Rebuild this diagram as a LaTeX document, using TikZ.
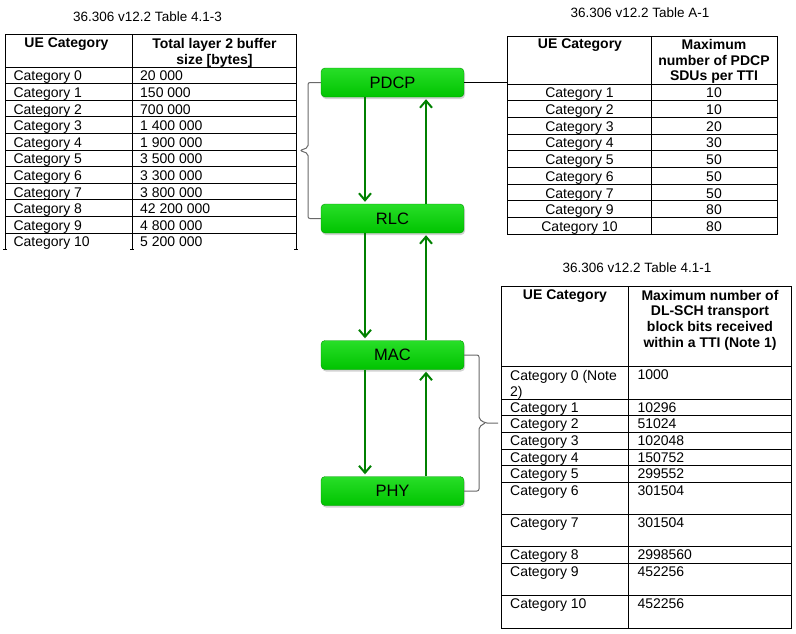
\documentclass[tikz,border=0pt]{standalone}
\usepackage{fontspec}
\setmainfont{Liberation Sans}
\usetikzlibrary{arrows.meta,shadows}
\definecolor{boxlight}{RGB}{40,222,40}
\definecolor{boxgreen}{RGB}{0,196,0}
\definecolor{boxedge}{RGB}{0,150,0}
\definecolor{flowgreen}{RGB}{0,128,0}
\definecolor{bracegray}{RGB}{105,105,105}
\tikzstyle{proto}=[shape=rectangle,rounded corners=4pt,draw=boxedge,top color=boxlight,bottom color=boxgreen,minimum width=143pt,minimum height=29pt,inner sep=0pt,font=\fontsize{16.5}{19}\selectfont,drop shadow={opacity=0.35,shadow xshift=1pt,shadow yshift=-2pt}]
\tikzstyle{flow}=[-{Straight Barb[length=7pt,width=12pt]},draw=flowgreen,line width=2pt,shorten >=2pt]
\tikzstyle{brc}=[draw=bracegray,line width=1pt,rounded corners=2pt]
\tikzstyle{rule}=[line width=0.9pt]
\tikzstyle{cell}=[inner sep=0pt,font=\fontsize{14}{16}\selectfont,align=left]
\tikzstyle{head}=[inner sep=0pt,anchor=north,font=\bfseries\fontsize{14}{15.8}\selectfont,align=center]
\tikzstyle{tabtitle}=[inner sep=0pt,anchor=base,font=\fontsize{13.5}{16}\selectfont]
\begin{document}
\begin{tikzpicture}[x=1pt,y=-1pt]
    \useasboundingbox (0,0) rectangle (796,633);
    % protocol layers
    \node[proto] (pdcp) at (392.5,82.5) {PDCP};
    \node[proto] (rlc) at (392.5,218.5) {RLC};
    \node[proto] (mac) at (392.5,355) {MAC};
    \node[proto] (phy) at (392.5,491) {PHY};
    \draw[flow] ([xshift=-27.5pt]pdcp.south) -- ([xshift=-27.5pt]rlc.north);
    \draw[flow] ([xshift=33.5pt]rlc.north) -- ([xshift=33.5pt]pdcp.south);
    \draw[flow] ([xshift=-27.5pt]rlc.south) -- ([xshift=-27.5pt]mac.north);
    \draw[flow] ([xshift=33.5pt]mac.north) -- ([xshift=33.5pt]rlc.south);
    \draw[flow] ([xshift=-27.5pt]mac.south) -- ([xshift=-27.5pt]phy.north);
    \draw[flow] ([xshift=33.5pt]phy.north) -- ([xshift=33.5pt]mac.south);
    % braces and link
    \coordinate (lbr) at (300,150.5);
    \coordinate (rbr) at (498,423);
    \coordinate (sdu) at (507.3,82.5);
    \draw[brc] (pdcp.west) -| ([shift={(8,-3)}]lbr) -- (lbr) -- ([shift={(8,3)}]lbr) |- (rlc.west);
    \draw[brc] (mac.east) -| ([shift={(-19,-4)}]rbr) -- ([shift={(-13,0)}]rbr) -- (rbr);
    \draw[brc] (phy.east) -| ([shift={(-19,4)}]rbr) -- ([shift={(-13,0)}]rbr);
    \draw[rule] (pdcp.east) -- (sdu);
    % table 4.1-3
    \node[tabtitle] (t413) at (147.5,21.5) {36.306 v12.2 Table 4.1-3};
    \draw[rule] (5,249.6) -- (5,34) -- (296,34) -- (296,249.6);
    \draw[rule] (132,34) -- (132,249.6);
    \draw[rule] (5,67) -- (296,67);
    \foreach \i in {1,...,10} \draw[rule] (5,{67+16.6*\i}) -- (296,{67+16.6*\i});
    \foreach \x in {5,132,296} \draw[rule] (\x-2,249.6) -- (\x+2,249.6);
    \node[head] (lh1) at (66.5,38) {UE Category};
    \node[head] (lh2) at (214.5,38) {Total layer 2 buffer\\size [bytes]};
    \foreach \a/\b [count=\i from 0] in {0/20 000,1/150 000,2/700 000,3/1 400 000,4/1 900 000,5/3 500 000,6/3 300 000,7/3 800 000,8/42 200 000,9/4 800 000,10/5 200 000} {
        \node[cell,anchor=north west] (lc\i) at (13.3,{71+16.6*\i}) {Category \a};
        \node[cell,anchor=north west] (lv\i) at (140,{71+16.6*\i}) {\b};
    }
    % table A-1
    \node[tabtitle] (ta1) at (640,17.7) {36.306 v12.2 Table A-1};
    \draw[rule] (507.3,36) rectangle (777.7,234);
    \draw[rule] (651.7,36) -- (651.7,234);
    \foreach \i in {0,...,8} \draw[rule] (507.3,{84+16.67*\i}) -- (777.7,{84+16.67*\i});
    \node[head] (ah1) at (580,39) {UE Category};
    \node[head] (ah2) at (714,39) {Maximum\\number of PDCP\\SDUs per TTI};
    \foreach \a/\b [count=\i from 0] in {1/10,2/10,3/20,4/30,5/50,6/50,7/50,9/80,10/80} {
        \node[cell,anchor=north] (ac\i) at (579.5,{88+16.67*\i}) {Category \a};
        \node[cell,anchor=north] (av\i) at (714,{88+16.67*\i}) {\b};
    }
    % table 4.1-1
    \node[tabtitle] (t411) at (637,272.7) {36.306 v12.2 Table 4.1-1};
    \draw[rule] (501,286.7) rectangle (791.7,628.3);
    \draw[rule] (628,286.7) -- (628,628.3);
    \foreach \y in {366.7,399.3,415.7,432.3,449.3,465.7,482.3,514.3,546.7,563.3,595.3} \draw[rule] (501,\y) -- (791.7,\y);
    \node[head] (bh1) at (565,289.7) {UE Category};
    \node[head] (bh2) at (710,289.7) {Maximum number of\\DL-SCH transport\\block bits received\\within a TTI (Note 1)};
    \foreach \y/\a/\b [count=\i from 0] in {366.7/Category 0 (Note\\2)/1000,399.3/Category 1/10296,415.7/Category 2/51024,432.3/Category 3/102048,449.3/Category 4/150752,465.7/Category 5/299552,482.3/Category 6/301504,514.3/Category 7/301504,546.7/Category 8/2998560,563.3/Category 9/452256,595.3/Category 10/452256} {
        \node[cell,anchor=north west] (bc\i) at (510,{\y+3.3}) {\a};
        \node[cell,anchor=north west] (bv\i) at (637.3,{\y+3.3}) {\b};
    }
\end{tikzpicture}
\end{document}
